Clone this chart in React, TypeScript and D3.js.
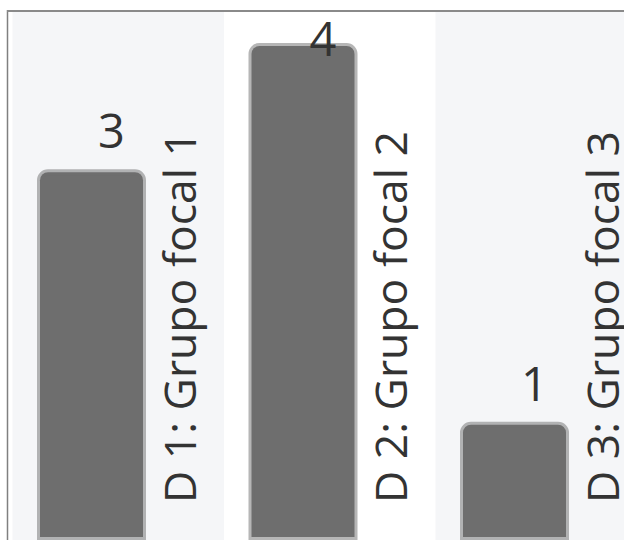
import React from "react";
import * as d3 from "d3";

const categories = ["D 1: Grupo focal 1", "D 2: Grupo focal 2", "D 3: Grupo focal 3"];
const values = [3, 4, 1];

const W = 624;
const H = 540;

export default function App() {
  const x = d3.scaleBand<string>().domain(categories).range([12.5, 12.5 + 3 * 211.5]).paddingInner(0).paddingOuter(0);
  const y = d3.scaleLinear().domain([0, 4]).range([551, 46]);
  const step = x.step();
  const barW = 103;
  const barBottom = 537;
  const r = 8;
  const font = "'Open Sans', 'Noto Sans', sans-serif";

  return (
    <svg width={W} height={H} style={{ position: "fixed", left: 0, top: 0, background: "#fff" }}>
      <defs>
        <clipPath id="plot">
          <rect x={11} y={12} width={W - 11} height={H - 12} />
        </clipPath>
      </defs>
      <g clipPath="url(#plot)">
        {categories.map((c, i) => (
          <rect key={"bg" + c} x={x(c)!} y={0} width={step} height={H} fill={i % 2 === 0 ? "#f5f6f8" : "#ffffff"} />
        ))}
        {categories.map((c, i) => {
          const cx = x(c)! + 79;
          const x0 = cx - barW / 2;
          const x1 = cx + barW / 2;
          const top = y(values[i]);
          const p = d3.path();
          p.moveTo(x0, barBottom);
          p.lineTo(x0, top + r);
          p.arcTo(x0, top, x0 + r, top, r);
          p.lineTo(x1 - r, top);
          p.arcTo(x1, top, x1, top + r, r);
          p.lineTo(x1, barBottom);
          p.closePath();
          const labelY = Math.max(top - 24, 56);
          return (
            <g key={"bar" + c}>
              <path d={p.toString()} fill="#6e6e6e" stroke="#6e6e6e" strokeOpacity={0.5} strokeWidth={6} />
              <text x={cx + 20} y={labelY} textAnchor="middle" fontFamily={font} fontSize={47} fill="#333">
                {values[i]}
              </text>
              <text
                transform={`translate(${x(c)! + 183},503) rotate(-90)`}
                fontFamily={font}
                fontSize={44.5}
                fill="#333"
              >
                {c}
              </text>
            </g>
          );
        })}
      </g>
      <line x1={7.5} y1={10} x2={7.5} y2={H} stroke="#808080" strokeWidth={1.5} />
      <line x1={7} y1={11} x2={W} y2={11} stroke="#8a8a8a" strokeWidth={2} />
    </svg>
  );
}
